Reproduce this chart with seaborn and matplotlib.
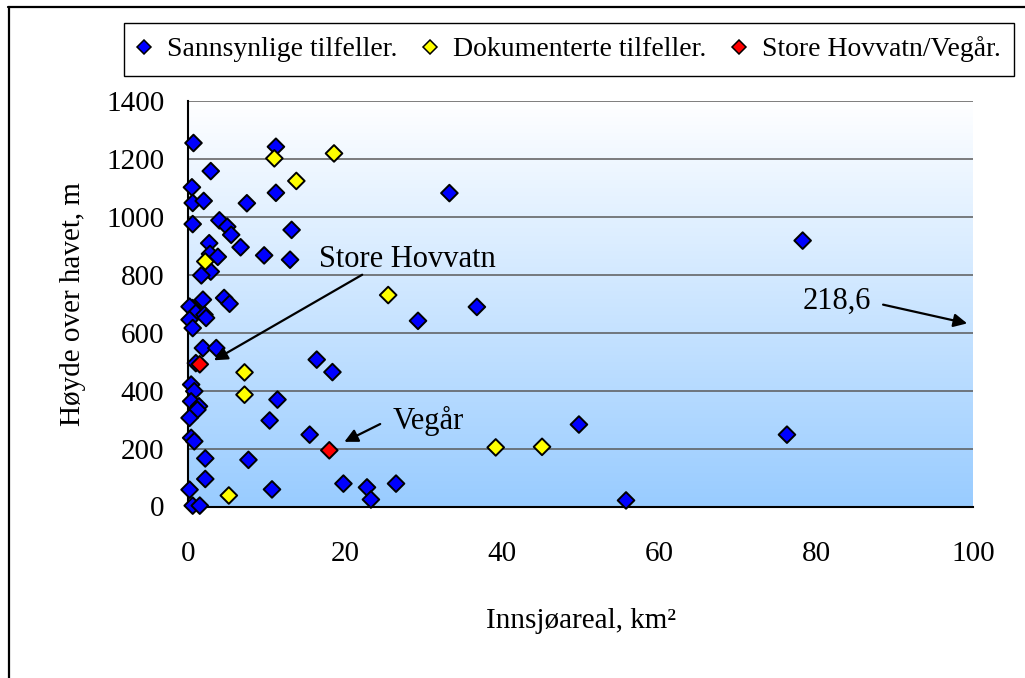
import numpy as np
import pandas as pd
import matplotlib
matplotlib.use("Agg")
import matplotlib.pyplot as plt
from matplotlib.colors import LinearSegmentedColormap
from matplotlib.lines import Line2D
from matplotlib.ticker import MultipleLocator
import seaborn as sns

# Sannsynlige tilfeller (innsjøareal km2, høyde m)
sannsynlige_areal = [0.7, 11.2, 2.9, 0.5, 11.2, 0.6, 2.0, 7.5, 4.0, 5.0,
                     5.5, 0.6, 13.2, 2.7, 6.7, 9.7, 13.0, 2.8, 3.8, 2.9,
                     1.7, 1.9, 4.6, 5.3, 0.6, 0.2, 1.0, 2.1, 2.3, 0.2,
                     0.6, 1.9, 3.6, 1.0, 16.4, 18.4, 0.4, 0.8, 0.4, 1.4,
                     1.2, 0.2, 11.4, 10.4, 15.5, 0.4, 0.8, 2.2, 7.7, 2.2,
                     0.2, 10.7, 19.8, 22.8, 23.3, 26.5, 0.6, 1.5, 33.3, 29.3,
                     36.8, 49.8, 55.8, 76.3, 78.3]
sannsynlige_hoyde = [1255, 1242, 1158, 1102, 1083, 1048, 1055, 1047, 988, 966,
                     938, 975, 955, 909, 895, 867, 852, 872, 862, 811,
                     798, 714, 720, 700, 685, 690, 668, 662, 651, 645,
                     616, 547, 547, 495, 507, 464, 421, 398, 363, 346,
                     334, 306, 369, 297, 248, 237, 225, 166, 161, 95,
                     58, 59, 79, 66, 24, 79, 3, 3, 1082, 641,
                     689, 283, 21, 248, 918]

# Dokumenterte tilfeller
dokumenterte_areal = [11.0, 18.6, 13.8, 2.2, 25.5, 7.2, 7.2, 5.2, 39.2, 45.1]
dokumenterte_hoyde = [1202, 1219, 1124, 846, 730, 463, 386, 38, 204, 206]

# Store Hovvatn / Vegår
hovvatn_vegar_areal = [1.5, 18.0]
hovvatn_vegar_hoyde = [491, 194]

group_labels = ["Sannsynlige tilfeller.", "Dokumenterte tilfeller.", "Store Hovvatn/Vegår."]
group_colors = ["#0000FF", "#FFFF00", "#FF0000"]

x_ticks = [0, 20, 40, 60, 80, 100]
y_ticks = [0, 200, 400, 600, 800, 1000, 1200, 1400]

df = pd.concat([
    pd.DataFrame({"areal": sannsynlige_areal, "hoyde": sannsynlige_hoyde, "gruppe": group_labels[0]}),
    pd.DataFrame({"areal": dokumenterte_areal, "hoyde": dokumenterte_hoyde, "gruppe": group_labels[1]}),
    pd.DataFrame({"areal": hovvatn_vegar_areal, "hoyde": hovvatn_vegar_hoyde, "gruppe": group_labels[2]}),
], ignore_index=True)

sns.set_style("white")
plt.rcParams["font.family"] = ["Liberation Serif", "DejaVu Serif"]
plt.rcParams["text.color"] = "black"
plt.rcParams["axes.labelcolor"] = "black"
plt.rcParams["xtick.color"] = "black"
plt.rcParams["ytick.color"] = "black"

fig = plt.figure(figsize=(10.25, 6.78), dpi=100)
ax = fig.add_axes([188 / 1025, 171.5 / 678, 785 / 1025, 405.5 / 678])

# white-to-blue gradient like the old Excel plot area
bg = LinearSegmentedColormap.from_list("bg", ["#FFFFFF", "#99CCFF"])
ax.imshow(np.linspace(0, 1, 256).reshape(-1, 1), cmap=bg, aspect="auto",
          extent=[0, 100, 0, 1400], zorder=0)

sns.scatterplot(data=df, x="areal", y="hoyde", hue="gruppe",
                palette=dict(zip(group_labels, group_colors)),
                marker="D", s=72, edgecolor="black", linewidth=1.4,
                legend=False, ax=ax, zorder=3, clip_on=False)

ax.set_xlim(0, 100)
ax.set_ylim(0, 1400)
ax.set_xticks(x_ticks)
ax.set_yticks(y_ticks)
ax.xaxis.set_minor_locator(MultipleLocator(4))
ax.yaxis.set_minor_locator(MultipleLocator(40))
ax.yaxis.grid(True, which="major", color="#5a5a5a", lw=1.1)
ax.xaxis.grid(False)
ax.set_axisbelow(True)

for side in ["top", "right"]:
    ax.spines[side].set_visible(False)
for side in ["left", "bottom"]:
    ax.spines[side].set_color("black")
    ax.spines[side].set_linewidth(1.5)

ax.tick_params(axis="x", which="major", direction="out", length=7, width=1.3,
               color="black", labelsize=21, pad=18)
ax.tick_params(axis="x", which="minor", direction="out", length=5, width=1.3, color="black")
ax.tick_params(axis="y", which="major", direction="out", length=6, width=1.3,
               color="black", labelsize=21, pad=11)
ax.tick_params(axis="y", which="minor", direction="out", length=4, width=1.3, color="black")

ax.set_xlabel("Innsjøareal, km²", fontsize=21)
ax.set_ylabel("Høyde over havet, m", fontsize=21)
ax.xaxis.set_label_coords(0.5, -0.25)
ax.yaxis.set_label_coords(-0.13, 0.5)

# annotations
arrow = dict(arrowstyle="-|>", color="black", lw=1.6, mutation_scale=20)
ax.text(16.7, 827, "Store Hovvatn", fontsize=22, ha="left", va="baseline")
ax.annotate("", xy=(3.0, 500), xytext=(22.5, 805), arrowprops=arrow)
ax.text(26.1, 268, "Vegår", fontsize=22, ha="left", va="baseline")
ax.annotate("", xy=(19.6, 219), xytext=(24.8, 289), arrowprops=arrow)
ax.text(78.3, 707, "218,6", fontsize=22, ha="left", va="center")
ax.annotate("", xy=(99.6, 630), xytext=(88.2, 699), arrowprops=arrow, annotation_clip=False)

handles = [Line2D([], [], ls="", marker="D", markersize=7.5, markerfacecolor=c,
                  markeredgecolor="black", markeredgewidth=1.1) for c in group_colors]
leg = fig.legend(handles, group_labels, loc="center", ncol=3,
                 bbox_to_anchor=(569 / 1025, 1 - 49.5 / 678), fontsize=20,
                 frameon=True, fancybox=False, edgecolor="black", framealpha=1,
                 borderpad=0.5, handlelength=0.5, handletextpad=0.55,
                 columnspacing=0.95)
leg.get_frame().set_linewidth(1.0)

# outer chart frame (only top and left are visible in the crop)
fig.add_artist(Line2D([8 / 1025, 1], [1 - 7 / 678, 1 - 7 / 678], transform=fig.transFigure,
                      color="black", lw=1.6))
fig.add_artist(Line2D([8.5 / 1025, 8.5 / 1025], [0, 1 - 7 / 678], transform=fig.transFigure,
                      color="black", lw=1.6))

fig.savefig("out.png", dpi=100)
